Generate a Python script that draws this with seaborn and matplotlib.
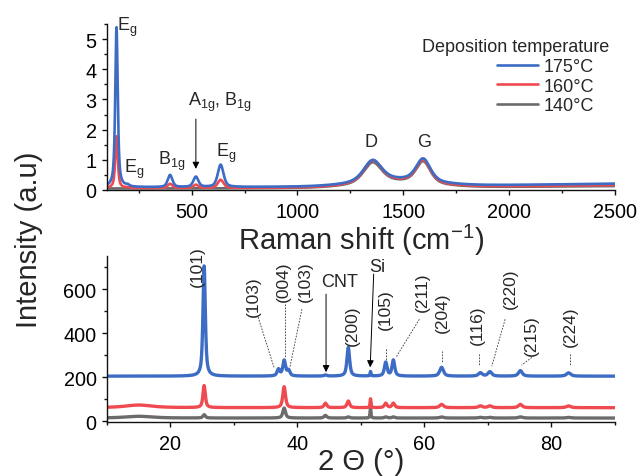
import numpy as np
import matplotlib
matplotlib.use("Agg")
import matplotlib.pyplot as plt
import seaborn as sns
from matplotlib.ticker import MultipleLocator
from matplotlib.lines import Line2D

# ---------------- data ----------------
SERIES = ["175°C", "160°C", "140°C"]
COLORS = ["#3c6cc4", "#ef4a50", "#6b6b6b"]

# Raman: peak centres (cm-1), half widths, lorentzian fraction, heights per series
RAMAN_CENTERS = [145, 197, 398, 520, 637, 1355, 1594, 1460]
RAMAN_HWHM = [7, 10, 13, 14, 16, 50, 40, 200]
RAMAN_ETA = [0.7, 0.5, 0.5, 0.5, 0.5, 0.5, 0.5, 0.0]
RAMAN_H_175 = [5.30, 0.05, 0.40, 0.34, 0.74, 0.70, 0.75, 0.20]
RAMAN_H_160 = [1.72, 0.02, 0.14, 0.11, 0.27, 0.72, 0.73, 0.20]
RAMAN_H_140 = [0.00, 0.00, 0.00, 0.00, 0.00, 0.68, 0.72, 0.19]
RAMAN_BASE = [0.09, 0.06, 0.05]
RAMAN_RISE = [0.12, 0.10, 0.08]

# XRD: peak centres (2 theta), half widths, heights per series, baselines
XRD_CENTERS = [15.0, 25.3, 37.0, 37.9, 38.6, 44.4, 48.0, 51.5, 53.9, 55.1, 62.7, 68.8, 70.3, 75.1, 82.7]
XRD_HWHM = [2.5, 0.22, 0.25, 0.25, 0.25, 0.25, 0.25, 0.08, 0.25, 0.25, 0.35, 0.35, 0.35, 0.35, 0.40]
XRD_H_175 = [0, 500, 30, 70, 25, 5, 130, 20, 62, 72, 40, 15, 20, 25, 15]
XRD_H_160 = [12, 100, 0, 95, 0, 20, 30, 40, 20, 20, 15, 8, 8, 15, 8]
XRD_H_140 = [8, 15, 0, 45, 0, 12, 5, 50, 5, 5, 5, 3, 3, 5, 3]
XRD_BASE = [205, 62, 15]

# annotations
RAMAN_LABELS = [r"E$_\mathregular{g}$", r"E$_\mathregular{g}$", r"B$_\mathregular{1g}$",
                r"A$_\mathregular{1g}$, B$_\mathregular{1g}$", r"E$_\mathregular{g}$", "D", "G"]
RAMAN_LABEL_X = [197, 228, 407, 636, 662, 1348, 1597]
RAMAN_LABEL_Y = [5.42, 0.70, 0.99, 2.95, 1.26, 1.60, 1.60]

XRD_LABELS = ["(101)", "(103)", "(004)", "(103)", "(200)", "(105)", "(211)", "(204)",
              "(116)", "(220)", "(215)", "(224)"]
XRD_LABEL_X = [24.2, 33.0, 37.7, 41.2, 48.6, 53.8, 59.6, 62.8, 68.3, 73.6, 76.9, 82.9]
XRD_LABEL_Y = [705, 568, 636, 636, 436, 513, 590, 495, 441, 605, 395, 432]
XRD_DASH_X0 = [33.8, 38.0, 40.7, 53.9, 59.2, 62.8, 68.6, 72.7, 76.9, 82.9]
XRD_DASH_Y0 = [473, 532, 509, 327, 463, 318, 305, 463, 290, 305]
XRD_DASH_X1 = [36.3, 38.0, 38.8, 53.9, 55.5, 62.8, 68.6, 70.6, 75.3, 82.9]
XRD_DASH_Y1 = [245, 290, 245, 272, 290, 270, 250, 250, 255, 255]


def pv(x, c, w, h, eta):
    d = ((x - c) / w) ** 2
    return h * (eta / (1 + d) + (1 - eta) * np.exp(-np.log(2) * d))


sns.set_style("ticks")
plt.rcParams["font.family"] = ["Liberation Sans", "DejaVu Sans"]
plt.rcParams["mathtext.fontset"] = "custom"
plt.rcParams["mathtext.rm"] = "Liberation Sans"
plt.rcParams["mathtext.it"] = "Liberation Sans:italic"
plt.rcParams["axes.edgecolor"] = "#111111"
plt.rcParams["axes.linewidth"] = 1.0

fig = plt.figure(figsize=(6.41, 4.77), dpi=100)
ax1 = fig.add_axes([0.1669, 0.5996, 0.7925, 0.348])
ax2 = fig.add_axes([0.1669, 0.1132, 0.7925, 0.348])

# ---------------- Raman ----------------
xr = np.linspace(100, 2500, 4801)
raman_h = [RAMAN_H_175, RAMAN_H_160, RAMAN_H_140]
for i in [2, 1, 0]:
    y = RAMAN_BASE[i] + RAMAN_RISE[i] * ((xr - 100) / 2400) ** 2
    for c, w, e, h in zip(RAMAN_CENTERS, RAMAN_HWHM, RAMAN_ETA, raman_h[i]):
        y = y + pv(xr, c, w, h, e)
    sns.lineplot(x=xr, y=y, ax=ax1, color=COLORS[i], lw=1.9, estimator=None,
                 sort=False, legend=False)

ax1.set_xlim(100, 2500)
ax1.set_ylim(0, 5.5)
ax1.set_xticks([500, 1000, 1500, 2000, 2500])
ax1.xaxis.set_minor_locator(MultipleLocator(250))
ax1.set_yticks([0, 1, 2, 3, 4, 5])
ax1.yaxis.set_minor_locator(MultipleLocator(0.5))

for t, x, y in zip(RAMAN_LABELS, RAMAN_LABEL_X, RAMAN_LABEL_Y):
    ax1.text(x, y, t, ha="center", va="center", fontsize=13, clip_on=False)
ax1.annotate("", xy=(520, 0.70), xytext=(520, 2.35),
             arrowprops=dict(arrowstyle="-|>", color="black", lw=0.7, mutation_scale=10,
                             shrinkA=0, shrinkB=0))

handles = [Line2D([], [], color=COLORS[i], lw=1.9) for i in range(3)]
fig.legend(handles, SERIES, loc="upper left", bbox_to_anchor=(497 / 641, 1 - 59.5 / 477),
           frameon=False, fontsize=13, handlelength=2.27, handletextpad=0.3,
           labelspacing=0.12, borderpad=0, borderaxespad=0)
fig.text(422 / 641, 1 - 47 / 477, "Deposition temperature", ha="left", va="center", fontsize=13)

# ---------------- XRD ----------------
xx = np.linspace(10, 90, 8001)
xrd_h = [XRD_H_175, XRD_H_160, XRD_H_140]
for i in [2, 1, 0]:
    y = np.full_like(xx, XRD_BASE[i], dtype=float)
    for c, w, h in zip(XRD_CENTERS, XRD_HWHM, xrd_h[i]):
        y = y + pv(xx, c, w, h, 0.7)
    sns.lineplot(x=xx, y=y, ax=ax2, color=COLORS[i], lw=2.4, estimator=None,
                 sort=False, legend=False)

ax2.set_xlim(10, 90)
ax2.set_ylim(-3, 750)
ax2.set_xticks([20, 40, 60, 80])
ax2.xaxis.set_minor_locator(MultipleLocator(10))
ax2.set_yticks([0, 200, 400, 600])
ax2.yaxis.set_minor_locator(MultipleLocator(100))

for t, x, y in zip(XRD_LABELS, XRD_LABEL_X, XRD_LABEL_Y):
    ax2.text(x, y, t, ha="center", va="center", rotation=90, fontsize=12.5, clip_on=False)
for x0, y0, x1, y1 in zip(XRD_DASH_X0, XRD_DASH_Y0, XRD_DASH_X1, XRD_DASH_Y1):
    ax2.plot([x0, x1], [y0, y1], color="#333333", lw=0.6, ls=(0, (2, 1.6)))

ax2.text(46.7, 636, "CNT", ha="center", va="center", fontsize=13)
ax2.annotate("", xy=(44.5, 223), xytext=(44.5, 577),
             arrowprops=dict(arrowstyle="-|>", color="black", lw=0.7, mutation_scale=10,
                             shrinkA=0, shrinkB=0))
ax2.text(52.5, 702, "Si", ha="center", va="center", fontsize=13)
ax2.annotate("", xy=(51.45, 245), xytext=(52.0, 668),
             arrowprops=dict(arrowstyle="-|>", color="black", lw=0.7, mutation_scale=10,
                             shrinkA=0, shrinkB=0))

for ax in (ax1, ax2):
    sns.despine(ax=ax)
    ax.tick_params(which="major", length=3.5, width=1.0, labelsize=14.3, color="#111111",
                   labelcolor="black")
    ax.tick_params(which="minor", length=2.0, width=1.0, color="#111111")
    ax.tick_params(axis="x", which="major", pad=5)
    ax.tick_params(axis="y", which="major", pad=4)
    ax.set_xlabel("")
    ax.set_ylabel("")

fig.text(361 / 641, 1 - 240 / 477, r"Raman shift (cm$^{\mathregular{-1}}$)", ha="center",
         va="center", fontsize=21)
fig.text(361 / 641, 1 - 462 / 477, "2 Θ (°)", ha="center", va="center", fontsize=21)
fig.text(29 / 641, 1 - 240 / 477, "Intensity (a.u)", ha="center", va="center", fontsize=21,
         rotation=90)

fig.savefig("out.png", dpi=100)
